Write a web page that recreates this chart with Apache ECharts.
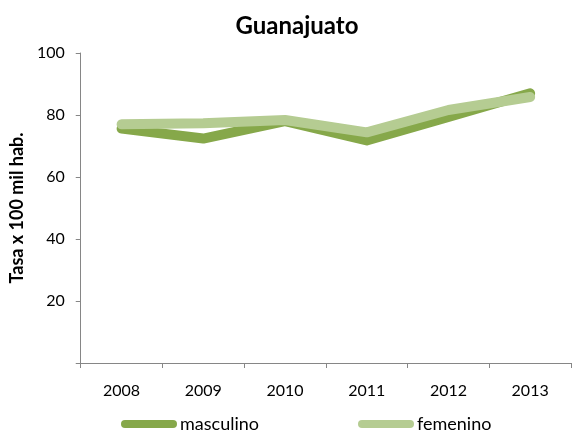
<!DOCTYPE html>
<html>
<head>
<meta charset="utf-8">
<script src="https://cdn.jsdelivr.net/npm/echarts@6/dist/echarts.min.js"></script>
<style>html,body{margin:0;padding:0;background:#fff}#c{width:572px;height:436px}</style>
</head>
<body>
<div id="c"></div>
<script>
const years = ['2008', '2009', '2010', '2011', '2012', '2013'];
const masculino = [75.6, 72.4, 78.0, 71.8, 79.4, 87.0];
const femenino = [77.0, 77.3, 78.4, 74.4, 81.6, 85.8];
const yTicks = [0, 20, 40, 60, 80, 100];

const font = 'Lato, "Open Sans", sans-serif';
const axisColor = '#868686';
const chart = echarts.init(document.getElementById('c'), null, {renderer: 'canvas'});
const pill = 'path://M4,0 L52,0 A4,4 0 0 1 52,8 L4,8 A4,4 0 0 1 4,0 Z';
chart.setOption({
  animation: false,
  backgroundColor: '#fff',
  title: {
    text: 'Guanajuato', left: 292, top: 9, textAlign: 'center',
    textStyle: {fontFamily: font, fontWeight: 'bold', fontSize: 24, color: '#000'}
  },
  grid: {left: 76.5, right: 1, top: 53, bottom: 73, containLabel: false},
  legend: [
    {data: ['masculino'], left: 121, top: 415, padding: 0, itemWidth: 56, itemHeight: 8, itemGap: 4,
     icon: pill, textStyle: {fontFamily: font, fontSize: 18, color: '#000', padding: [0,0,0,-2]}},
    {data: ['femenino'], left: 358, top: 415, padding: 0, itemWidth: 56, itemHeight: 8, itemGap: 4,
     icon: pill, textStyle: {fontFamily: font, fontSize: 18, color: '#000', padding: [0,0,0,-2]}}
  ],
  xAxis: {
    type: 'category', data: years, boundaryGap: true,
    axisLine: {lineStyle: {color: axisColor, width: 1}},
    axisTick: {show: true, length: 5, lineStyle: {color: axisColor}, alignWithLabel: false},
    axisLabel: {fontFamily: font, fontSize: 16, color: '#000', margin: 20}
  },
  yAxis: {
    type: 'value', min: yTicks[0], max: yTicks[yTicks.length - 1], interval: 20,
    name: 'Tasa x 100 mil hab.', nameLocation: 'middle', nameGap: 52, nameRotate: 90,
    nameTextStyle: {fontFamily: font, fontWeight: 'bold', fontSize: 18, color: '#000'},
    axisLine: {show: true, lineStyle: {color: axisColor, width: 1}},
    axisTick: {show: true, length: 5, lineStyle: {color: axisColor}},
    splitLine: {show: false},
    axisLabel: {fontFamily: font, fontSize: 16, color: '#000', margin: 16,
      formatter: v => (yTicks.includes(v) && v !== 0) ? String(v) : ''}
  },
  series: [
    {name: 'masculino', type: 'line', data: masculino, symbol: 'none', smooth: false,
     itemStyle: {color: '#86A84A'},
     lineStyle: {color: '#86A84A', width: 10, cap: 'round', join: 'round'}},
    {name: 'femenino', type: 'line', data: femenino, symbol: 'none', smooth: false,
     itemStyle: {color: '#B5CC92'},
     lineStyle: {color: '#B5CC92', width: 10, cap: 'round', join: 'round'}}
  ]
});
</script>
</body>
</html>
